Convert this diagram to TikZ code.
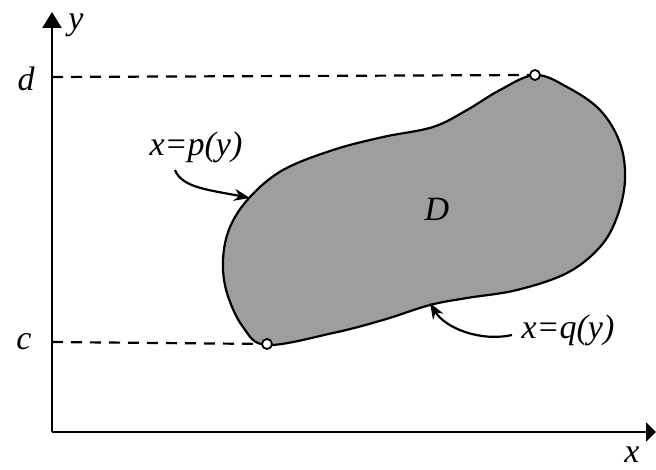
\documentclass[tikz,border=0pt]{standalone}
\usepackage{fontspec}
\setmainfont{Liberation Serif}
\usetikzlibrary{arrows.meta}
\definecolor{regionfill}{RGB}{158,158,158}
\tikzset{
  lbl/.style={font=\fontsize{34}{38}\selectfont\itshape, inner sep=0pt},
  axis/.style={line width=2.6pt, -{Triangle[length=16pt,width=19pt]}},
  guide/.style={line width=2.2pt, dash pattern=on 11pt off 8pt},
  endpt/.style={circle, draw, line width=1.8pt, fill=white, inner sep=0pt, minimum size=10pt},
  pointer/.style={line width=2.2pt, -{Stealth[length=16pt,width=12pt]}},
}
\begin{document}
\begin{tikzpicture}[x=1pt,y=-1pt]
\useasboundingbox (0,0) rectangle (656,470);
% region
\draw[line width=2.2pt, fill=regionfill]
  plot[smooth cycle, tension=0.6] coordinates {
  (535,75) (567,87) (600,110) (620,143) (625,180) (617,217) (600,247)
  (567,273) (517,290) (467,298) (430,305) (383,320) (333,333) (267,345)
  (243,327) (227,293) (223,260) (230,227) (250,197) (283,170) (333,150)
  (383,137) (433,127) (467,110) (500,90)};
% axes
\coordinate (O) at (52,432);
\coordinate (ytip) at (52,12);
\coordinate (xtip) at (656,432);
\draw[axis] (O) -- (ytip);
\draw[axis, -{Triangle[length=10pt,width=19pt]}] (O) -- (xtip);
% end points
\node[endpt] (top) at (535,75) {};
\node[endpt] (bot) at (267,344) {};
\coordinate (dax) at (52,77);
\coordinate (cax) at (52,342);
\draw[guide] (dax) -- (top);
\draw[guide] (cax) -- (bot);
% labels
\node[lbl] (ylab) at (76,25) {y};
\node[lbl] (xlab) at (632,455) {x};
\node[lbl] (dlab) at (26,79) {d};
\node[lbl] (clab) at (24,342) {c};
\node[lbl] (Dlab) at (437,209) {D};
\node[lbl] (plab) at (196,147) {x=p(y)};
\node[lbl] (qlab) at (568,330) {x=q(y)};
% pointers
\coordinate (ptail) at (175,170);
\coordinate (phead) at (250,198);
\coordinate (qtail) at (512,335);
\coordinate (qhead) at (430,303);
\draw[pointer] (ptail) .. controls (182,188) and (210,190) .. (phead);
\draw[pointer] (qtail) .. controls (480,342) and (445,328) .. (qhead);
\end{tikzpicture}
\end{document}
